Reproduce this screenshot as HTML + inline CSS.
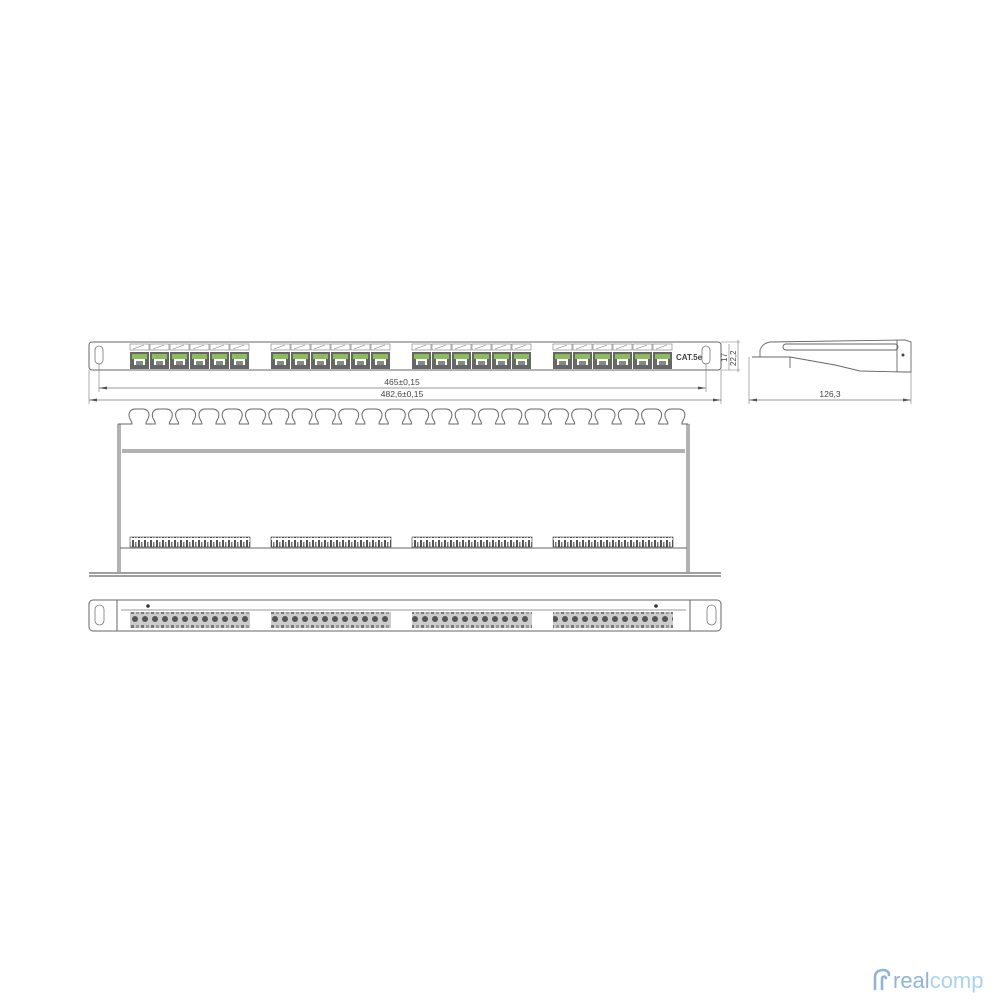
<!DOCTYPE html>
<html><head><meta charset="utf-8"><style>
html,body{margin:0;padding:0;background:#fff;}
svg{display:block;}
text{font-family:"Liberation Sans",sans-serif;fill:#444;}
</style></head><body>
<svg width="1000" height="1000" viewBox="0 0 1000 1000" xmlns="http://www.w3.org/2000/svg">
<defs>
  <g id="port">
    <rect x="0" y="0" width="19" height="6" fill="#fff" stroke="#777" stroke-width="0.6"/>
    <line x1="3" y1="5" x2="14" y2="1" stroke="#777" stroke-width="0.6"/>
    <rect x="0" y="8" width="19" height="17" fill="#666"/>
    <rect x="2" y="10" width="15" height="5" fill="#8bbd5a"/>
    <rect x="4" y="15" width="11" height="6" fill="#fff"/>
    <rect x="6" y="17" width="7" height="4" fill="#888"/>
  </g>
  <g id="grp">
    <use href="#port" x="0"/><use href="#port" x="20"/><use href="#port" x="40"/>
    <use href="#port" x="60"/><use href="#port" x="80"/><use href="#port" x="100"/>
  </g>
  <pattern id="strip" width="6" height="10" patternUnits="userSpaceOnUse">
    <rect width="6" height="10" fill="#fff"/>
    <rect x="0" y="0" width="2" height="8" fill="#555"/>
    <rect x="3" y="2" width="1.5" height="6" fill="#777"/>
  </pattern>
  <pattern id="back" width="10" height="16" patternUnits="userSpaceOnUse">
    <rect width="10" height="16" fill="#ccc"/>
    <rect x="1" y="1" width="3" height="5" fill="#777"/>
    <rect x="6" y="1" width="3" height="5" fill="#999"/>
    <circle cx="5" cy="11" r="3" fill="#555"/>
  </pattern>
  <path id="lobe" d="M0,16 L3,16 C3,12 0,12 0,7 C0,3 3,1 6,1 L14,1 C17,1 20,3 20,7 C20,12 17,12 17,16 L23.3,16" fill="none" stroke="#666" stroke-width="1"/>
</defs>

<!-- FRONT PANEL -->
<rect x="89" y="342" width="632" height="28" rx="3" fill="#fff" stroke="#666" stroke-width="1"/>
<rect x="95" y="346" width="8" height="18" rx="4" fill="#fff" stroke="#777" stroke-width="0.8"/>
<rect x="702" y="346" width="8" height="18" rx="4" fill="#fff" stroke="#777" stroke-width="0.8"/>
<use href="#grp" x="130" y="344"/>
<use href="#grp" x="271" y="344"/>
<use href="#grp" x="412" y="344"/>
<use href="#grp" x="553" y="344"/>
<text x="676" y="360" font-size="8" font-weight="bold" fill="#333">CAT.5e</text>
<line x1="721" y1="370" x2="740" y2="370" stroke="#777" stroke-width="0.6"/>
<line x1="721" y1="342" x2="740" y2="342" stroke="#777" stroke-width="0.6"/>
<line x1="729" y1="344" x2="729" y2="370" stroke="#777" stroke-width="0.6"/>
<line x1="738" y1="340" x2="738" y2="372" stroke="#777" stroke-width="0.6"/>
<text x="0" y="0" font-size="8" transform="translate(727,362) rotate(-90)">17</text>
<text x="0" y="0" font-size="8" transform="translate(736,366) rotate(-90)">22,2</text>
<line x1="99" y1="364" x2="99" y2="392" stroke="#777" stroke-width="0.6"/>
<line x1="706" y1="364" x2="706" y2="392" stroke="#777" stroke-width="0.6"/>
<line x1="89" y1="370" x2="89" y2="404" stroke="#777" stroke-width="0.6"/>
<line x1="721" y1="370" x2="721" y2="404" stroke="#777" stroke-width="0.6"/>
<line x1="99" y1="388" x2="706" y2="388" stroke="#777" stroke-width="0.7"/>
<line x1="89" y1="400" x2="721" y2="400" stroke="#777" stroke-width="0.7"/>
<path d="M99,388 l8,-1.5 v3z M706,388 l-8,-1.5 v3z M89,400 l8,-1.5 v3z M721,400 l-8,-1.5 v3z" fill="#555"/>
<text x="402" y="385" font-size="8.5" text-anchor="middle">465±0,15</text>
<text x="402" y="397" font-size="8.5" text-anchor="middle">482,6±0,15</text>

<!-- SIDE VIEW -->
<g fill="none" stroke="#666" stroke-width="0.9">
  <path d="M760,357 L760,350 C762,345 765,343 770,342 L905,340 L911,342 L911,372 L905,372 L860,371 L835,365 L790,357 Z"/>
  <path d="M752,357 L790,357 L790,368"/>
  <rect x="783" y="344" width="115" height="6" rx="3"/>
  <line x1="897" y1="340" x2="897" y2="372"/>
</g>
<circle cx="903" cy="355" r="1.5" fill="#444"/>
<line x1="749" y1="357" x2="749" y2="404" stroke="#777" stroke-width="0.6"/>
<line x1="911" y1="372" x2="911" y2="404" stroke="#777" stroke-width="0.6"/>
<line x1="749" y1="400" x2="911" y2="400" stroke="#777" stroke-width="0.7"/>
<path d="M749,400 l8,-1.5 v3z M911,400 l-8,-1.5 v3z" fill="#555"/>
<text x="830" y="397" font-size="8.5" text-anchor="middle">126,3</text>

<!-- TOP VIEW -->
<g>
  <line x1="118" y1="424" x2="129" y2="424" stroke="#666"/>
  <use href="#lobe" x="129" y="408"/><use href="#lobe" x="152.3" y="408"/><use href="#lobe" x="175.6" y="408"/>
  <use href="#lobe" x="198.9" y="408"/><use href="#lobe" x="222.2" y="408"/><use href="#lobe" x="245.5" y="408"/>
  <use href="#lobe" x="268.8" y="408"/><use href="#lobe" x="292.1" y="408"/><use href="#lobe" x="315.4" y="408"/>
  <use href="#lobe" x="338.7" y="408"/><use href="#lobe" x="362" y="408"/><use href="#lobe" x="385.3" y="408"/>
  <use href="#lobe" x="408.6" y="408"/><use href="#lobe" x="431.9" y="408"/><use href="#lobe" x="455.2" y="408"/>
  <use href="#lobe" x="478.5" y="408"/><use href="#lobe" x="501.8" y="408"/><use href="#lobe" x="525.1" y="408"/>
  <use href="#lobe" x="548.4" y="408"/><use href="#lobe" x="571.7" y="408"/><use href="#lobe" x="595" y="408"/>
  <use href="#lobe" x="618.3" y="408"/><use href="#lobe" x="641.6" y="408"/><use href="#lobe" x="664.9" y="408"/>
</g>
<g fill="none" stroke="#666" stroke-width="1">
  <line x1="118" y1="424" x2="118" y2="572"/>
  <line x1="120" y1="424" x2="120" y2="572"/>
  <line x1="687" y1="424" x2="687" y2="572"/>
  <line x1="689" y1="424" x2="689" y2="572"/>
  <line x1="122" y1="450" x2="685" y2="450"/>
  <line x1="122" y1="452" x2="685" y2="452"/>
  <line x1="120" y1="548" x2="687" y2="548"/>
  <line x1="89" y1="573" x2="721" y2="573" stroke-width="1.2"/>
  <line x1="89" y1="576" x2="721" y2="576" stroke-width="1.2"/>
</g>
<rect x="130" y="537" width="120" height="10" fill="url(#strip)" stroke="#444" stroke-width="0.6"/>
<rect x="271" y="537" width="120" height="10" fill="url(#strip)" stroke="#444" stroke-width="0.6"/>
<rect x="412" y="537" width="120" height="10" fill="url(#strip)" stroke="#444" stroke-width="0.6"/>
<rect x="553" y="537" width="120" height="10" fill="url(#strip)" stroke="#444" stroke-width="0.6"/>

<!-- BACK VIEW -->
<rect x="89" y="600" width="632" height="31" rx="4" fill="#fff" stroke="#666" stroke-width="1"/>
<rect x="95" y="605" width="9" height="20" rx="4.5" fill="#fff" stroke="#777" stroke-width="0.8"/>
<rect x="707" y="605" width="9" height="20" rx="4.5" fill="#fff" stroke="#777" stroke-width="0.8"/>
<line x1="117" y1="600" x2="117" y2="631" stroke="#666"/>
<line x1="690" y1="600" x2="690" y2="631" stroke="#666"/>
<line x1="121" y1="610" x2="686" y2="610" stroke="#777" stroke-width="0.8"/>
<circle cx="148" cy="606" r="1.8" fill="#333"/>
<circle cx="656" cy="606" r="1.8" fill="#333"/>
<rect x="130" y="612" width="120" height="16" fill="url(#back)"/>
<rect x="271" y="612" width="120" height="16" fill="url(#back)"/>
<rect x="412" y="612" width="120" height="16" fill="url(#back)"/>
<rect x="553" y="612" width="120" height="16" fill="url(#back)"/>

<!-- LOGO -->
<g fill="none" stroke="#8fb3d9" stroke-width="2.6" stroke-linecap="round">
  <path d="M875,989 L875,977 C875,972 879,970 883,970 C887,970 889,972 889,975"/>
  <path d="M882,989 L882,979 C882,976 885,976 886,978"/>
</g>
<text x="893" y="988" font-size="22" style="fill:#8fb3d9">real<tspan style="fill:#a9d4ef">comp</tspan></text>
</svg>
</body></html>
